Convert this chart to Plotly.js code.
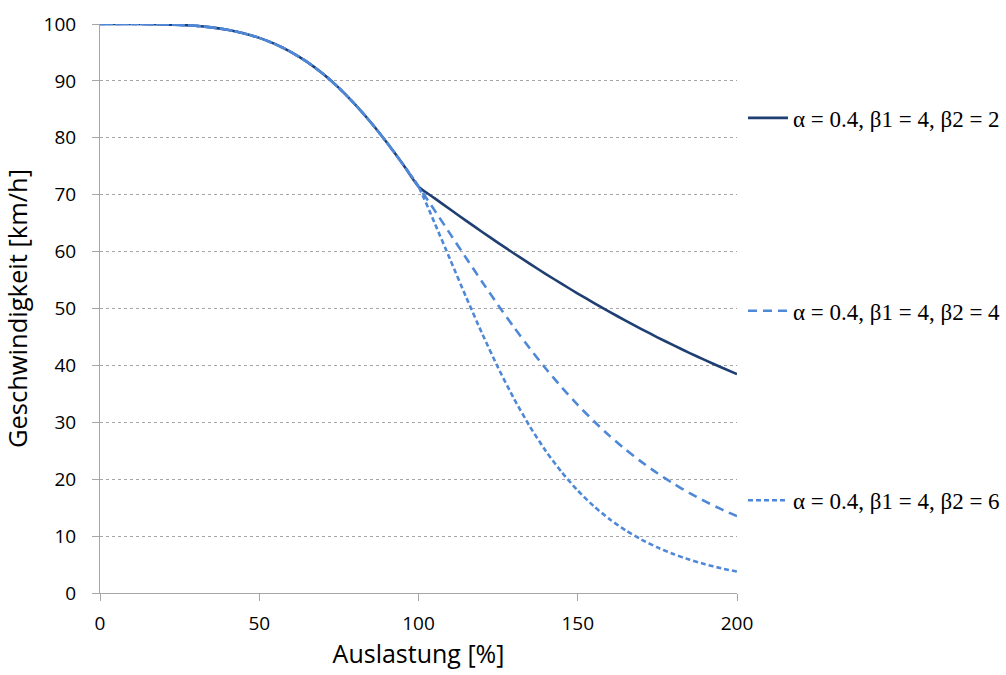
<!DOCTYPE html>
<html>
<head>
<meta charset="utf-8">
<script src="https://cdn.plot.ly/plotly-3.0.1.min.js"></script>
<style>html,body{margin:0;padding:0;background:#fff;}#chart{width:1006px;height:675px;}</style>
</head>
<body>
<div id="chart"></div>
<script>
// Auslastung [%]
const auslastung = [0,5,10,15,20,25,30,35,40,45,50,55,60,65,70,75,80,85,90,95,100,
  105,110,115,120,125,130,135,140,145,150,155,160,165,170,175,180,185,190,195,200];
// common part 0..100
const common = [100,100,100,99.98,99.94,99.84,99.68,99.40,98.99,98.39,97.56,96.47,95.07,93.34,91.24,88.77,85.92,82.73,79.21,75.43,71.43];
// beyond 100
const tailB2 = [69.40,67.39,65.40,63.45,61.54,59.67,57.84,56.05,54.32,52.63,50.99,49.41,47.87,46.38,44.94,43.55,42.21,40.92,39.67,38.46];
const tailB4 = [67.29,63.07,58.84,54.66,50.59,46.68,42.94,39.42,36.12,33.06,30.22,27.61,25.22,23.04,21.05,19.23,17.59,16.10,14.74,13.51];
const tailB6 = [65.10,58.53,51.94,45.57,39.59,34.12,29.23,24.93,21.20,18.00,15.27,12.97,11.02,9.39,8.01,6.85,5.87,5.05,4.35,3.76];
const seriesNames = ["α = 0.4, β1 = 4, β2 = 2","α = 0.4, β1 = 4, β2 = 4","α = 0.4, β1 = 4, β2 = 6"];

const speedB2 = common.concat(tailB2);
const speedB4 = common.concat(tailB4);
const speedB6 = common.concat(tailB6);

const navy = '#1F3F73', light = '#4F88D8';
const traces = [
  {x: auslastung, y: speedB2, name: seriesNames[0], mode:'lines', line:{color:navy, width:2.6, shape:'spline', smoothing:0.6}, legend:'legend'},
  {x: auslastung, y: speedB4, name: seriesNames[1], mode:'lines', line:{color:light, width:2.6, dash:'9px,6px', shape:'spline', smoothing:0.6}, legend:'legend2'},
  {x: auslastung, y: speedB6, name: seriesNames[2], mode:'lines', line:{color:light, width:2.6, dash:'5px,3px', shape:'spline', smoothing:0.6}, legend:'legend3'}
];

const legFont = {family:'"Liberation Serif", "Times New Roman", serif', size:23, color:'#000'};
const legBase = {xanchor:'left', yanchor:'middle', x:1.0094, font:legFont, bgcolor:'rgba(0,0,0,0)', borderwidth:0, itemwidth:40};
const sans = '"Open Sans", "Liberation Sans", sans-serif';
const tickFont = {family:sans, size:19, color:'#000'};

const layout = {
  width:1006, height:675,
  margin:{l:100, r:269, t:24, b:82, autoexpand:false},
  paper_bgcolor:'#fff', plot_bgcolor:'#fff',
  showlegend:true,
  legend: Object.assign({}, legBase, {y:0.835}),
  legend2: Object.assign({}, legBase, {y:0.496}),
  legend3: Object.assign({}, legBase, {y:0.163}),
  xaxis:{
    range:[0,200], tickvals:[0,50,100,150,200], showgrid:false, zeroline:false,
    showline:true, linecolor:'#A6A6A6', linewidth:1, ticks:'outside', ticklen:7, tickcolor:'#A6A6A6',
    tickfont:tickFont, ticklabelstandoff:6, automargin:false,
    title:{text:'Auslastung [%]', font:{family:sans, size:25, color:'#000'}, standoff:10}
  },
  yaxis:{
    range:[0,100], dtick:10, zeroline:false, automargin:false,
    showgrid:true, gridcolor:'#A6A6A6', griddash:'dot', gridwidth:1,
    showline:true, linecolor:'#A6A6A6', linewidth:1, ticks:'outside', ticklen:7, tickcolor:'#A6A6A6',
    tickfont:tickFont, ticklabelstandoff:12,
    title:{text:'Geschwindigkeit [km/h]', font:{family:sans, size:25.5, color:'#000'}, standoff:8}
  }
};
Plotly.newPlot('chart', traces, layout, {displayModeBar:false, staticPlot:true});
</script>
</body>
</html>
